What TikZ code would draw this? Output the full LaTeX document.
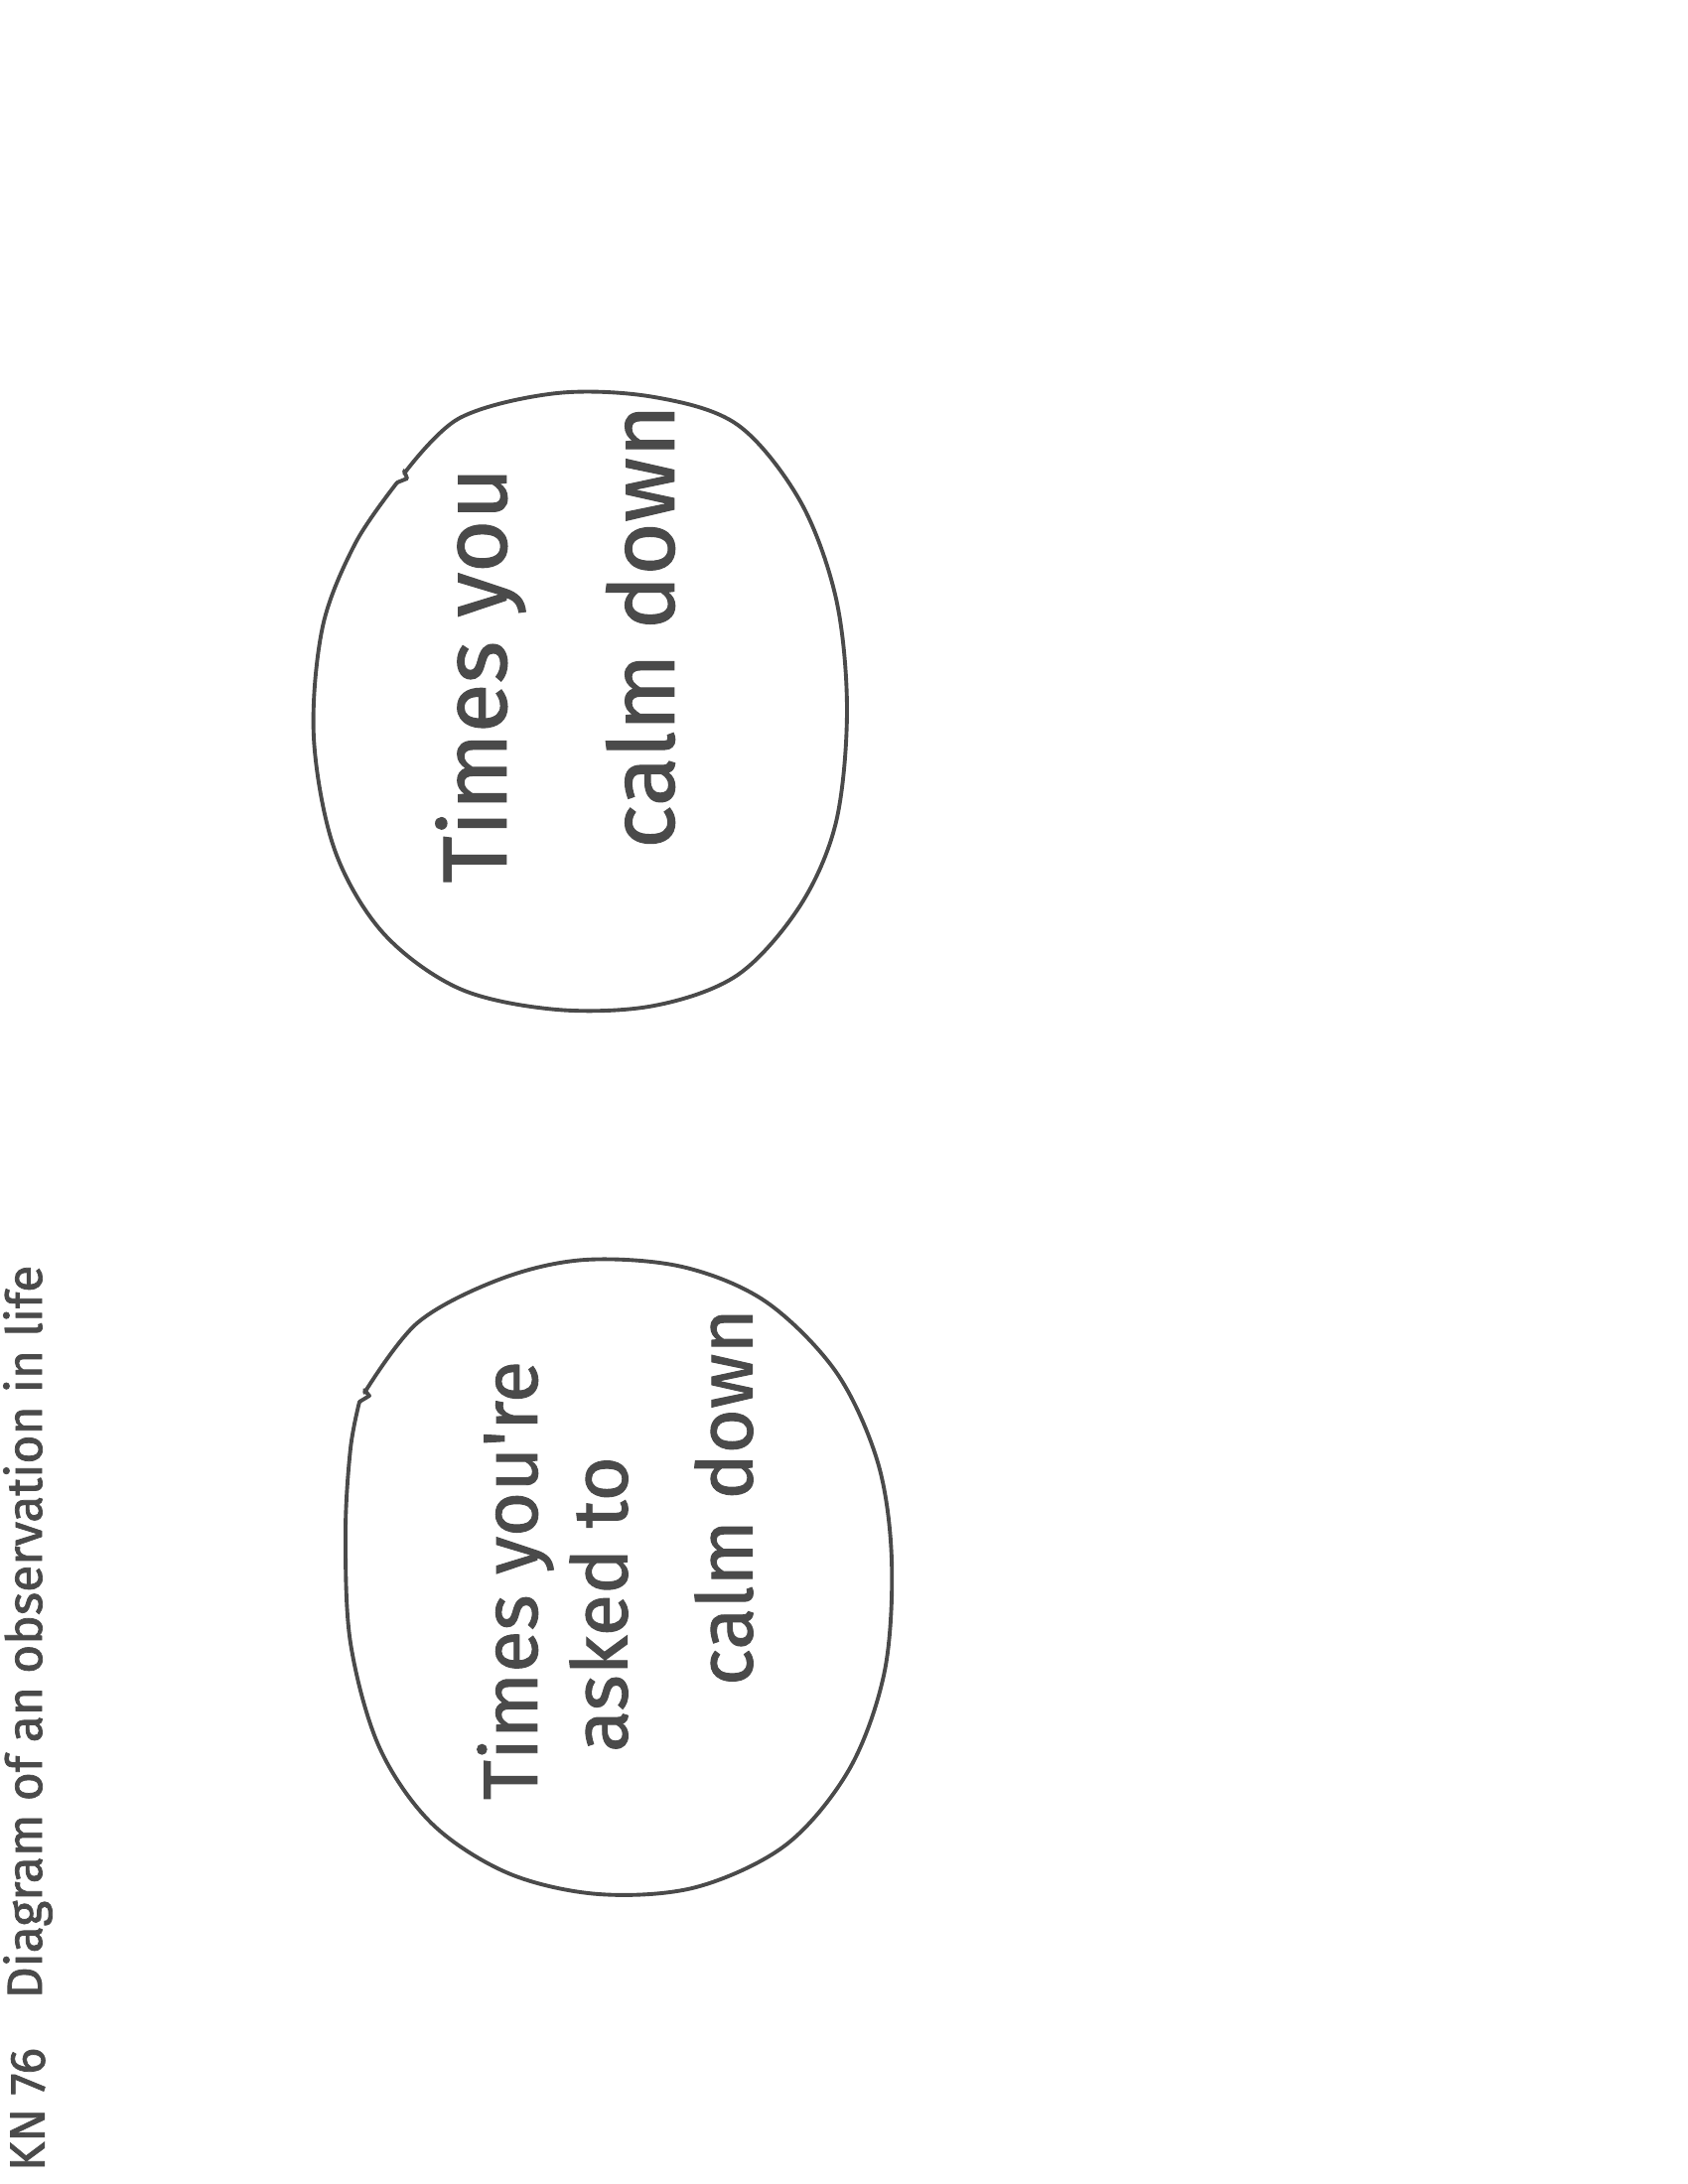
\documentclass[tikz,border=0pt]{standalone}
\usepackage{fontspec}
\newfontfamily\hand[FakeBold=1.2]{Fira Sans}
\newfontfamily\headhand[FakeBold=1.5]{Fira Sans}
\definecolor{ink}{HTML}{4A4A4A}
\begin{document}
\begin{tikzpicture}[x=0.36135pt,y=-0.36135pt,
  ring/.style={draw=ink,line width=1.4pt,line cap=round,line join=round},
  bigtext/.style={text=ink,rotate=90,align=center,inner sep=0pt},
  headtext/.style={text=ink,font=\headhand\fontsize{18}{20}\selectfont,rotate=90,anchor=center,inner sep=0pt}]
\useasboundingbox[fill=white] (0,0) rectangle (1700,2200);
% header
\node[headtext] (kn) at (28,2125) {KN 76};
\node[headtext] (title) at (28,1644) {Diagram of an observation in life};
% circle (upper)
\draw[ring] plot[smooth,tension=0.55] coordinates {
(407,477) (463,421) (561,396) (659,400) (743,428) (806,505) (842,603)
(853,715) (842,828) (806,912) (743,982) (659,1013) (561,1017) (463,996)
(386,940) (337,856) (316,743) (325,631) (358,547) (400,486)};
\draw[ring] (400,486) -- (410,482) -- (407,474);
% circle (lower)
\draw[ring] plot[smooth,tension=0.55] coordinates {
(367,1403) (421,1332) (505,1288) (589,1269) (687,1276) (771,1311) (842,1382)
(884,1473) (898,1571) (891,1683) (856,1781) (792,1858) (701,1901) (603,1908)
(512,1887) (435,1837) (382,1760) (353,1655) (348,1543) (353,1459) (362,1412)};
\draw[ring] (362,1412) -- (372,1406) -- (367,1400);
% texts upper circle
\node[bigtext,font=\hand\fontsize{33}{36}\selectfont] (t2a) at (484,680) {Times you};
\node[bigtext,font=\hand\fontsize{33}{36}\selectfont] (t2b) at (645,631) {calm down};
% texts lower circle
\node[bigtext,font=\hand\fontsize{28}{32}\selectfont] (t1a) at (519,1592) {Times you're};
\node[bigtext,font=\hand\fontsize{28}{32}\selectfont] (t1b) at (603,1616) {asked to};
\node[bigtext,font=\hand\fontsize{28}{32}\selectfont] (t1c) at (729,1508) {calm down};
\end{tikzpicture}
\end{document}
